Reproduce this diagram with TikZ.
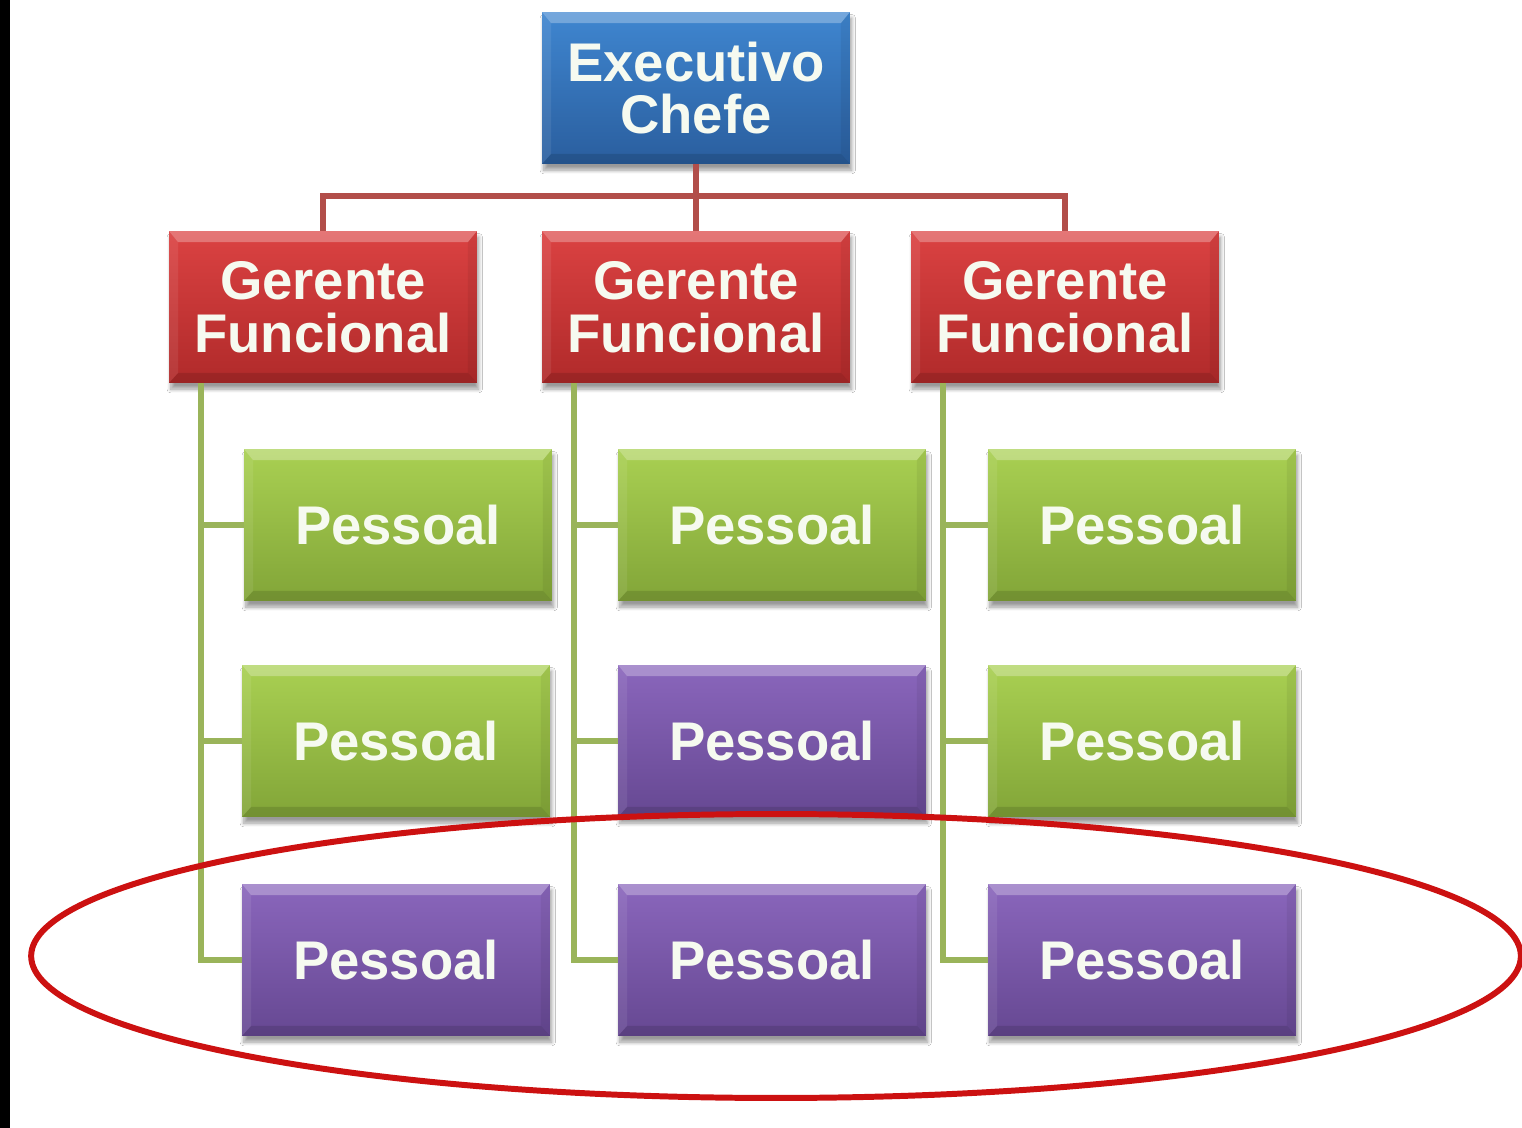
\documentclass[tikz,border=0pt]{standalone}
\usepackage{fontspec}
\setmainfont{Liberation Sans}
\usetikzlibrary{shadows.blur}

\definecolor{blueTop}{HTML}{3F86D0}
\definecolor{blueBot}{HTML}{2A5E9E}
\definecolor{redTop}{HTML}{DB4242}
\definecolor{redBot}{HTML}{B02A2A}
\definecolor{greenTop}{HTML}{A9D052}
\definecolor{greenBot}{HTML}{82A538}
\definecolor{purpTop}{HTML}{8A66BC}
\definecolor{purpBot}{HTML}{664892}
\definecolor{redLink}{HTML}{B24E4A}
\definecolor{greenLink}{HTML}{9AB45A}
\definecolor{ringRed}{HTML}{CC1111}
\definecolor{textWhite}{HTML}{F6FAF0}

\tikzset{
  orgbox/.style={rectangle, minimum width=6.16cm, minimum height=3.04cm,
    inner sep=0pt, align=center, text=textWhite,
    font=\bfseries\fontsize{31}{30}\selectfont,
    blur shadow={shadow xshift=1pt, shadow yshift=-3.5pt,
      shadow blur steps=8, shadow opacity=40},
    path picture={
      % bevelled rim: light upper edge, dark lower edge
      \fill[white,opacity=0.28]
        (path picture bounding box.north west) --
        (path picture bounding box.north east) --
        ([shift={(-0.18cm,-0.22cm)}]path picture bounding box.north east) --
        ([shift={(0.18cm,-0.22cm)}]path picture bounding box.north west) -- cycle;
      \fill[black,opacity=0.12]
        (path picture bounding box.south west) --
        (path picture bounding box.south east) --
        ([shift={(-0.18cm,0.2cm)}]path picture bounding box.south east) --
        ([shift={(0.18cm,0.2cm)}]path picture bounding box.south west) -- cycle;
      \fill[black,opacity=0.06]
        (path picture bounding box.north east) --
        (path picture bounding box.south east) --
        ([shift={(-0.18cm,0.2cm)}]path picture bounding box.south east) --
        ([shift={(-0.18cm,-0.22cm)}]path picture bounding box.north east) -- cycle;
      \fill[white,opacity=0.08]
        (path picture bounding box.north west) --
        (path picture bounding box.south west) --
        ([shift={(0.18cm,0.2cm)}]path picture bounding box.south west) --
        ([shift={(0.18cm,-0.22cm)}]path picture bounding box.north west) -- cycle;
    }},
  chief/.style={orgbox, top color=blueTop, bottom color=blueBot},
  manager/.style={orgbox, top color=redTop, bottom color=redBot},
  staffG/.style={orgbox, top color=greenTop, bottom color=greenBot},
  staffP/.style={orgbox, top color=purpTop, bottom color=purpBot},
  redlink/.style={draw=redLink, line width=3.4pt},
  greenlink/.style={draw=greenLink, line width=3.4pt},
}

\begin{document}
\begin{tikzpicture}[x=0.02cm, y=-0.02cm]
  \useasboundingbox[fill=white] (0,0) rectangle (1522,1128);
  \fill[black] (0,0) rectangle (10,1128);

  % top of the hierarchy
  \node[chief] (exec) at (696,88) {Executivo\\Chefe};

  \node[manager] (g1) at (323,307) {Gerente\\Funcional};
  \node[manager] (g2) at (696,307) {Gerente\\Funcional};
  \node[manager] (g3) at (1065,307) {Gerente\\Funcional};

  % staff boxes, one column per manager
  \node[staffG] (p11) at (398,525) {Pessoal};
  \node[staffG] (p12) at (396,741) {Pessoal};
  \node[staffP] (p13) at (396,960) {Pessoal};

  \node[staffG] (p21) at (772,525) {Pessoal};
  \node[staffP] (p22) at (772,741) {Pessoal};
  \node[staffP] (p23) at (772,960) {Pessoal};

  \node[staffG] (p31) at (1142,525) {Pessoal};
  \node[staffG] (p32) at (1142,741) {Pessoal};
  \node[staffP] (p33) at (1142,960) {Pessoal};

  % manager links
  \draw[redlink] (exec.south) -- (g2.north);
  \draw[redlink] (g1.north) -- ++(0,-35) -| (g3.north);

  % staff links
  \foreach \g/\a/\b/\c in {g1/p11/p12/p13, g2/p21/p22/p23, g3/p31/p32/p33}{
    \coordinate (t-\g) at ([xshift=0.64cm]\g.south west);
    \draw[greenlink] (t-\g) |- (\c.west);
    \draw[greenlink] (t-\g |- \a.west) -- (\a.west);
    \draw[greenlink] (t-\g |- \b.west) -- (\b.west);
  }

  % highlight ring round the bottom row
  \draw[ringRed, line width=3.4pt] (776,956) ellipse [x radius=14.9cm, y radius=2.84cm];
\end{tikzpicture}
\end{document}
